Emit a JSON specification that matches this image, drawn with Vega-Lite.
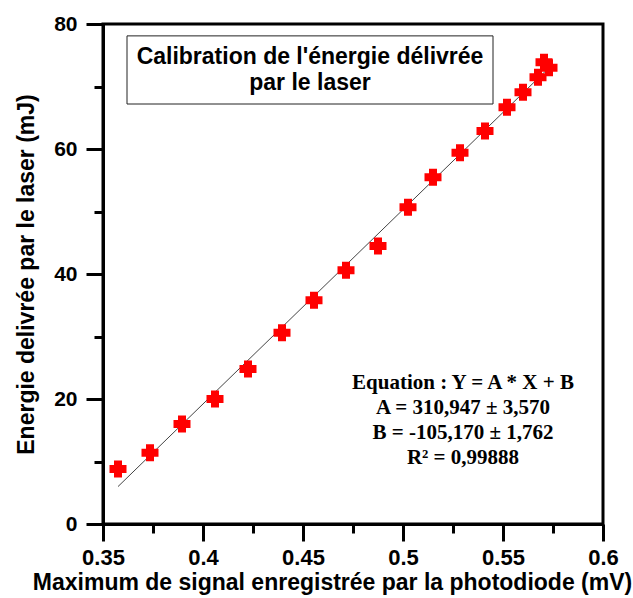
{
  "$schema": "https://vega.github.io/schema/vega-lite/v6.json",
  "autosize": {"type": "none"},
  "width": 500,
  "height": 500,
  "padding": {"left": 103, "top": 24, "right": 30, "bottom": 74},
  "background": "white",
  "config": {
    "view": {"stroke": "black", "strokeWidth": 3},
    "axis": {
      "grid": false,
      "domainColor": "black",
      "domainWidth": 3,
      "tickColor": "black",
      "tickWidth": 3,
      "labelFont": "Liberation Sans",
      "labelFontWeight": "bold",
      "labelFontSize": 21,
      "labelColor": "black",
      "titleFont": "Liberation Sans",
      "titleFontWeight": "bold",
      "titleFontSize": 23,
      "titleColor": "black"
    }
  },
  "datasets": {
    "points": [
      {"signal": 0.3575, "energie": 8.8},
      {"signal": 0.3735, "energie": 11.4},
      {"signal": 0.3895, "energie": 16.0},
      {"signal": 0.406, "energie": 20.0},
      {"signal": 0.4225, "energie": 24.8},
      {"signal": 0.4395, "energie": 30.6},
      {"signal": 0.4555, "energie": 35.8},
      {"signal": 0.4715, "energie": 40.6},
      {"signal": 0.4875, "energie": 44.5},
      {"signal": 0.5025, "energie": 50.7},
      {"signal": 0.515, "energie": 55.5},
      {"signal": 0.5285, "energie": 59.4},
      {"signal": 0.541, "energie": 62.9},
      {"signal": 0.552, "energie": 66.7},
      {"signal": 0.56, "energie": 69.1},
      {"signal": 0.5675, "energie": 71.5},
      {"signal": 0.5705, "energie": 73.9},
      {"signal": 0.573, "energie": 73.0}
    ],
    "fit": [
      {"signal": 0.3575, "energie": 5.99},
      {"signal": 0.5718, "energie": 72.63}
    ],
    "box": [
      {"x1": 0.362, "x2": 0.545, "y1": 67.2, "y2": 78.1}
    ],
    "titre": [
      {"signal": 0.4535, "energie": 74.7, "label": "Calibration de l'énergie délivrée"},
      {"signal": 0.4535, "energie": 70.6, "label": "par le laser"}
    ],
    "equation": [
      {"signal": 0.53, "energie": 22.6, "label": "Equation : Y = A * X + B"},
      {"signal": 0.53, "energie": 18.6, "label": "A = 310,947 ± 3,570"},
      {"signal": 0.53, "energie": 14.6, "label": "B = -105,170 ± 1,762"},
      {"signal": 0.53, "energie": 10.6, "label": "R² = 0,99888"}
    ]
  },
  "layer": [
    {
      "data": {"name": "fit"},
      "mark": {"type": "line", "color": "#444444", "strokeWidth": 1},
      "encoding": {
        "x": {
          "field": "signal", "type": "quantitative",
          "scale": {"domain": [0.35, 0.6], "nice": false, "zero": false},
          "axis": {
            "orient": "bottom",
            "values": [0.375, 0.425, 0.475, 0.525, 0.575],
            "tickSize": 9, "labels": false, "domain": false, "title": null
          }
        },
        "y": {
          "field": "energie", "type": "quantitative",
          "scale": {"domain": [0, 80], "nice": false},
          "axis": {
            "orient": "left",
            "values": [10, 30, 50, 70],
            "tickSize": 9, "labels": false, "domain": false, "title": null
          }
        }
      }
    },
    {
      "data": {"name": "points"},
      "mark": {"type": "point", "shape": "cross", "filled": true, "color": "#ff0000", "stroke": "#ff0000", "strokeWidth": 2, "size": 225, "opacity": 1},
      "encoding": {
        "x": {
          "field": "signal", "type": "quantitative",
          "axis": {
            "orient": "bottom",
            "values": [0.35, 0.4, 0.45, 0.5, 0.55, 0.6],
            "format": ".2~f",
            "tickSize": 17, "labelPadding": 6, "labelFlush": false,
            "labelFontSize": 22,
            "title": "Maximum de signal enregistrée par la photodiode (mV)",
            "titlePadding": 3,
            "titleX": 229,
            "titleAlign": "center",
            "titleAnchor": null
          }
        },
        "y": {
          "field": "energie", "type": "quantitative",
          "axis": {
            "orient": "left",
            "values": [0, 20, 40, 60, 80],
            "tickSize": 17, "labelPadding": 9, "labelFlush": false,
            "title": "Energie delivrée par le laser (mJ)",
            "titlePadding": 15
          }
        }
      }
    },
    {
      "data": {"name": "box"},
      "mark": {"type": "rect", "fill": "white", "stroke": "#222222", "strokeWidth": 1},
      "encoding": {
        "x": {"field": "x1", "type": "quantitative", "axis": null},
        "x2": {"field": "x2"},
        "y": {"field": "y1", "type": "quantitative", "axis": null},
        "y2": {"field": "y2"}
      }
    },
    {
      "data": {"name": "titre"},
      "mark": {"type": "text", "font": "Liberation Sans", "fontWeight": "bold", "fontSize": 23, "color": "black", "align": "center", "baseline": "middle"},
      "encoding": {
        "x": {"field": "signal", "type": "quantitative", "axis": null},
        "y": {"field": "energie", "type": "quantitative", "axis": null},
        "text": {"field": "label"}
      }
    },
    {
      "data": {"name": "equation"},
      "mark": {"type": "text", "font": "Liberation Serif", "fontWeight": "bold", "fontSize": 21, "color": "black", "align": "center", "baseline": "middle"},
      "encoding": {
        "x": {"field": "signal", "type": "quantitative", "axis": null},
        "y": {"field": "energie", "type": "quantitative", "axis": null},
        "text": {"field": "label"}
      }
    }
  ],
  "resolve": {"axis": {"x": "independent", "y": "independent"}}
}
